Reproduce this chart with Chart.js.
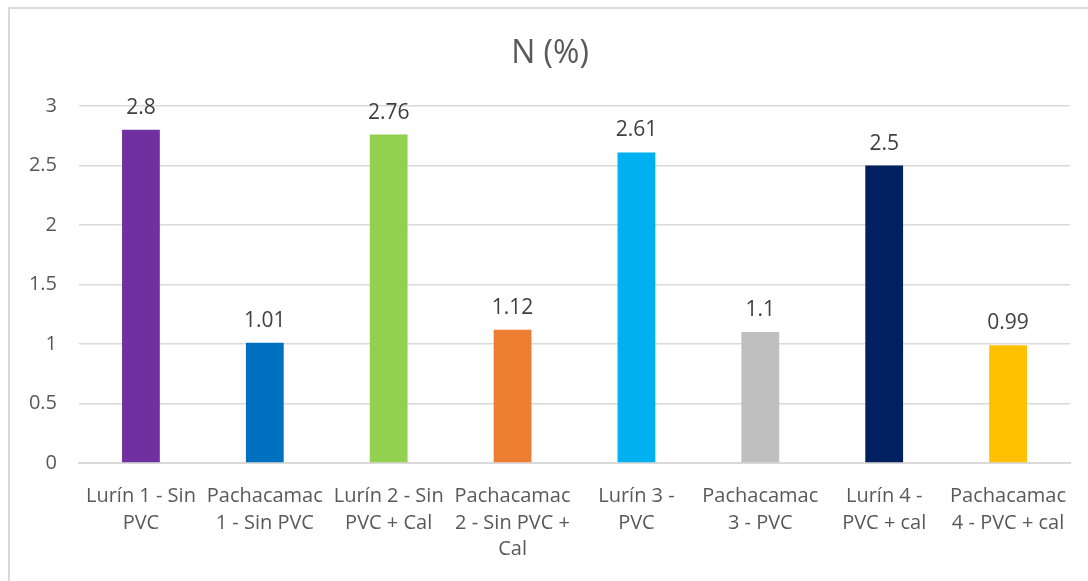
<!DOCTYPE html>
<html>
<head>
<meta charset="utf-8">
<script src="https://cdn.jsdelivr.net/npm/chart.js@4/dist/chart.umd.min.js"></script>
<style>
  html, body { margin: 0; padding: 0; background: #fff; overflow: hidden; }
  #frame { position: absolute; left: 8px; top: 7px; width: 1100px; height: 600px;
           border: 2px solid #d9d9d9; box-sizing: border-box; }
  #wrap { position: absolute; left: 0; top: 0; width: 1088px; height: 581px; }
</style>
</head>
<body>
<div id="frame"></div>
<div id="wrap"><canvas id="c" width="1088" height="581"></canvas></div>
<script>
// Nitrogen content per sample
const categories = [
  ["Lurín 1 - Sin", "PVC"],
  ["Pachacamac", "1 - Sin PVC"],
  ["Lurín 2 - Sin", "PVC + Cal"],
  ["Pachacamac", "2 - Sin PVC +", "Cal"],
  ["Lurín 3 -", "PVC"],
  ["Pachacamac", "3 - PVC"],
  ["Lurín 4 -", "PVC + cal"],
  ["Pachacamac", "4 - PVC + cal"]
];
const nValues = [2.8, 1.01, 2.76, 1.12, 2.61, 1.1, 2.5, 0.99];
const valueLabels = ["2.8", "1.01", "2.76", "1.12", "2.61", "1.1", "2.5", "0.99"];
const barColors = ["#7030A0", "#0070C0", "#92D050", "#ED7D31", "#00B0F0", "#BFBFBF", "#002060", "#FFC000"];
const titleText = "N (%)";

const FONT = "'Open Sans', sans-serif";

// Value labels above each bar, positioned via the bar elements
const valueLabelPlugin = {
  id: 'valueLabels',
  afterDatasetsDraw(chart) {
    const ctx = chart.ctx;
    const meta = chart.getDatasetMeta(0);
    ctx.save();
    ctx.font = "21px " + FONT;
    ctx.fillStyle = "#404040";
    ctx.textAlign = "center";
    ctx.textBaseline = "alphabetic";
    meta.data.forEach((bar, i) => {
      ctx.fillText(valueLabels[i], bar.x, bar.y - 16);
    });
    ctx.restore();
  }
};

// Chart heading
const titlePlugin = {
  id: 'heading',
  afterDraw(chart) {
    const ctx = chart.ctx;
    ctx.save();
    ctx.font = "32px " + FONT;
    ctx.fillStyle = "#595959";
    ctx.textAlign = "center";
    ctx.textBaseline = "alphabetic";
    ctx.fillText(titleText, 550, 63);
    ctx.restore();
  }
};

new Chart(document.getElementById('c'), {
  type: 'bar',
  data: {
    labels: categories,
    datasets: [{
      data: nValues,
      backgroundColor: barColors,
      borderWidth: 0,
      barPercentage: 0.61,
      categoryPercentage: 0.5
    }]
  },
  options: {
    responsive: false,
    animation: false,
    devicePixelRatio: 1,
    layout: { padding: { top: 106, right: 18, bottom: 0, left: 0 } },
    plugins: { legend: { display: false }, tooltip: { enabled: false }, title: { display: false } },
    scales: {
      x: {
        grid: { display: false, drawTicks: false },
        border: { display: true, color: '#d9d9d9', width: 2 },
        ticks: {
          autoSkip: false, maxRotation: 0, minRotation: 0,
          color: '#595959', padding: 20,
          font: { family: FONT, size: 20, lineHeight: 1.33 }
        },
        afterFit(scale) { scale.height = 118; }
      },
      y: {
        min: 0, max: 3,
        grid: { color: '#d9d9d9', lineWidth: 1.5, drawTicks: false },
        border: { display: false },
        ticks: {
          stepSize: 0.5, color: '#595959', padding: 22,
          font: { family: FONT, size: 20 },
          callback: v => String(v)
        },
        afterFit(scale) { scale.width = 79; }
      }
    }
  },
  plugins: [valueLabelPlugin, titlePlugin]
});
</script>
</body>
</html>
